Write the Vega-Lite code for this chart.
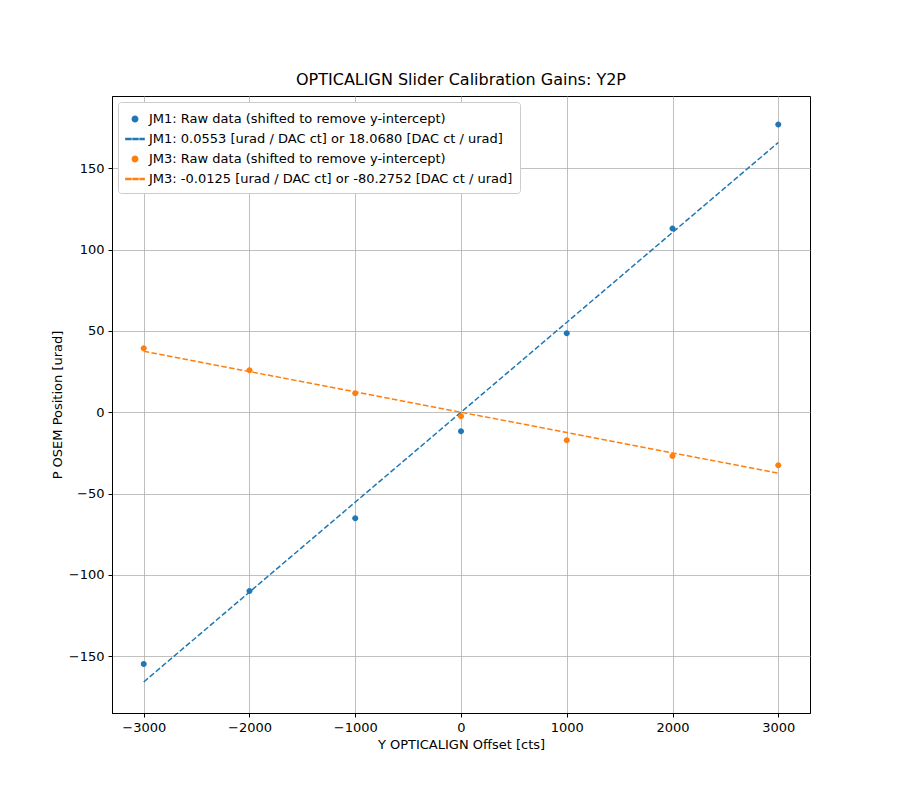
{
  "$schema": "https://vega.github.io/schema/vega-lite/v6.json",
  "autosize": "none",
  "width": 698,
  "height": 617,
  "padding": {"left": 112, "top": 96, "right": 90, "bottom": 87},
  "background": "white",
  "title": {"text": "OPTICALIGN Slider Calibration Gains: Y2P", "fontSize": 16, "fontWeight": "normal", "font": "DejaVu Sans", "offset": 8},
  "config": {
    "font": "DejaVu Sans",
    "view": {"stroke": "black", "strokeWidth": 1},
    "axis": {"grid": true, "gridColor": "#b0b0b0", "gridWidth": 0.8, "domainColor": "black", "tickColor": "black", "labelColor": "black", "titleColor": "black", "labelFontSize": 13, "titleFontSize": 13, "titleFontWeight": "normal", "tickSize": 4, "labelPadding": 4}
  },
  "datasets": {
    "pts": [
      {"x": -3000, "y": -154.9, "series": "JM1: Raw data (shifted to remove y-intercept)"},
      {"x": -2000, "y": -110, "series": "JM1: Raw data (shifted to remove y-intercept)"},
      {"x": -1000, "y": -65.2, "series": "JM1: Raw data (shifted to remove y-intercept)"},
      {"x": 0, "y": -11.7, "series": "JM1: Raw data (shifted to remove y-intercept)"},
      {"x": 1000, "y": 48.6, "series": "JM1: Raw data (shifted to remove y-intercept)"},
      {"x": 2000, "y": 113, "series": "JM1: Raw data (shifted to remove y-intercept)"},
      {"x": 3000, "y": 177, "series": "JM1: Raw data (shifted to remove y-intercept)"},
      {"x": -3000, "y": 39.3, "series": "JM3: Raw data (shifted to remove y-intercept)"},
      {"x": -2000, "y": 25.8, "series": "JM3: Raw data (shifted to remove y-intercept)"},
      {"x": -1000, "y": 11.7, "series": "JM3: Raw data (shifted to remove y-intercept)"},
      {"x": 0, "y": -2.5, "series": "JM3: Raw data (shifted to remove y-intercept)"},
      {"x": 1000, "y": -17.2, "series": "JM3: Raw data (shifted to remove y-intercept)"},
      {"x": 2000, "y": -27, "series": "JM3: Raw data (shifted to remove y-intercept)"},
      {"x": 3000, "y": -32.6, "series": "JM3: Raw data (shifted to remove y-intercept)"}
    ],
    "fits": [
      {"x": -3000, "y": -165.9, "series": "JM1: 0.0553 [urad / DAC ct] or 18.0680 [DAC ct / urad]"},
      {"x": 3000, "y": 165.9, "series": "JM1: 0.0553 [urad / DAC ct] or 18.0680 [DAC ct / urad]"},
      {"x": -3000, "y": 37.5, "series": "JM3: -0.0125 [urad / DAC ct] or -80.2752 [DAC ct / urad]"},
      {"x": 3000, "y": -37.5, "series": "JM3: -0.0125 [urad / DAC ct] or -80.2752 [DAC ct / urad]"}
    ]
  },
  "layer": [
    {
      "data": {"name": "fits"},
      "mark": {"type": "line", "strokeDash": [5.5, 2.4], "strokeWidth": 1.5, "clip": true},
      "encoding": {
        "x": {"field": "x", "type": "quantitative"},
        "y": {"field": "y", "type": "quantitative"},
        "color": {"field": "series", "type": "nominal"}
      }
    },
    {
      "data": {"name": "pts"},
      "mark": {"type": "point", "filled": true, "opacity": 1, "size": 400},
      "encoding": {
        "x": {"field": "x", "type": "quantitative", "title": "Y OPTICALIGN Offset [cts]",
          "scale": {"domain": [-3300, 3300], "nice": false, "zero": false},
          "axis": {"values": [-3000, -2000, -1000, 0, 1000, 2000, 3000], "format": "d"}},
        "y": {"field": "y", "type": "quantitative", "title": "P OSEM Position [urad]",
          "scale": {"domain": [-185, 194.5], "nice": false, "zero": false},
          "axis": {"values": [-150, -100, -50, 0, 50, 100, 150]}},
        "color": {"field": "series", "type": "nominal",
          "scale": {
            "domain": [
              "JM1: Raw data (shifted to remove y-intercept)",
              "JM1: 0.0553 [urad / DAC ct] or 18.0680 [DAC ct / urad]",
              "JM3: Raw data (shifted to remove y-intercept)",
              "JM3: -0.0125 [urad / DAC ct] or -80.2752 [DAC ct / urad]"
            ],
            "range": ["#1f77b4", "#1f77b4", "#ff7f0e", "#ff7f0e"]
          },
          "legend": {"title": null, "orient": "top-left", "offset": 6, "labelFontSize": 13, "labelLimit": 600, "symbolSize": 330, "rowPadding": 3, "padding": 7, "strokeColor": "#cccccc", "fillColor": "white", "cornerRadius": 3}
        },
        "shape": {"field": "series", "type": "nominal",
          "scale": {
            "domain": [
              "JM1: Raw data (shifted to remove y-intercept)",
              "JM1: 0.0553 [urad / DAC ct] or 18.0680 [DAC ct / urad]",
              "JM3: Raw data (shifted to remove y-intercept)",
              "JM3: -0.0125 [urad / DAC ct] or -80.2752 [DAC ct / urad]"
            ],
            "range": [
              "M0,-0.3A0.3,0.3 0 1,1 0,0.3A0.3,0.3 0 1,1 0,-0.3Z",
              "M-1,-0.05H-0.45V0.05H-1Z M-0.22,-0.05H0.33V0.05H-0.22Z M0.56,-0.05H1V0.05H0.56Z",
              "M0,-0.3A0.3,0.3 0 1,1 0,0.3A0.3,0.3 0 1,1 0,-0.3Z",
              "M-1,-0.05H-0.45V0.05H-1Z M-0.22,-0.05H0.33V0.05H-0.22Z M0.56,-0.05H1V0.05H0.56Z"
            ]
          }
        }
      }
    }
  ]
}
